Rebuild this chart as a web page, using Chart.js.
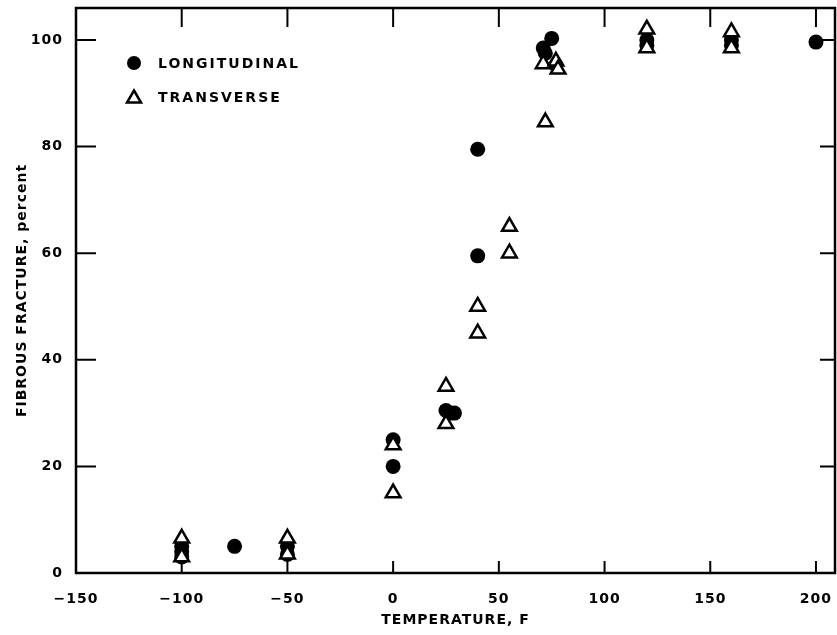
<!DOCTYPE html>
<html>
<head>
<meta charset="utf-8">
<script src="https://cdn.jsdelivr.net/npm/chart.js@4/dist/chart.umd.min.js"></script>
<style>
  html, body { margin: 0; padding: 0; background: #fff; overflow: hidden; }
  canvas { display: block; }
</style>
</head>
<body>
<canvas id="chart-fracture" width="837" height="635"></canvas>
<script>
const tempLongitudinal = [
  -100, -100, -100, -75, -50, -50, 0, 0, 25, 27, 29, 40, 40, 71, 72, 75, 77, 120, 120, 160, 160, 200,
];
const fracLongitudinal = [
  3, 4, 5, 5, 3.5, 5, 25, 20, 30.5, 30, 30, 79.5, 59.5, 98.5, 97.5, 100.3, 95.3, 100, 99, 100, 99, 99.6,
];

const tempTransverse = [
  -100, -100, -50, -50, 0, 0, 25, 25, 40, 40, 55, 55, 72, 71, 77, 78, 120, 120, 160, 160,
];
const fracTransverse = [
  6.5, 3, 6.5, 3.5, 24, 15, 35, 28, 50, 45, 65, 60, 84.6, 95.5, 96, 94.5, 102, 98.5, 101.5, 98.5,
];

const xTicks = [-150, -100, -50, 0, 50, 100, 150, 200];
const yTicks = [0, 20, 40, 60, 80, 100];

const seriesNames = ["LONGITUDINAL", "TRANSVERSE"];

const toPoints = (xs, ys) => xs.map((x, i) => ({ x: x, y: ys[i] }));

const fontFamily = "'DejaVu Sans', sans-serif";
const labelFont = { family: fontFamily, size: 14, weight: "bold" };
const titleFont = { family: fontFamily, size: 14, weight: "bold" };

// no auto padding from the edge labels, fixed axis boxes
const fixBox = (s, size) => {
  s.paddingTop = 0;
  s.paddingBottom = 0;
  s.paddingLeft = 0;
  s.paddingRight = 0;
  if (s.isHorizontal()) s.height = size;
  else s.width = size;
};

// frame, inward ticks on all four sides, and the in-plot key
const framePlugin = {
  id: "frame",
  beforeDraw(chart) {
    chart.ctx.letterSpacing = "1px";
  },
  afterDatasetsDraw(chart) {
    const { ctx, chartArea: a, scales } = chart;
    ctx.save();
    ctx.strokeStyle = "#000";
    ctx.lineWidth = 2.5;
    ctx.strokeRect(a.left, a.top, a.right - a.left, a.bottom - a.top);
    ctx.lineWidth = 2;
    ctx.beginPath();
    xTicks.forEach((v) => {
      const px = scales.x.getPixelForValue(v);
      if (px <= a.left + 2 || px >= a.right - 2) return;
      ctx.moveTo(px, a.bottom);
      ctx.lineTo(px, a.bottom - 12);
      ctx.moveTo(px, a.top);
      ctx.lineTo(px, a.top + 19);
    });
    yTicks.forEach((v) => {
      const py = scales.y.getPixelForValue(v);
      if (py >= a.bottom - 2) return;
      ctx.moveTo(a.left, py);
      ctx.lineTo(a.left + 20, py);
      ctx.moveTo(a.right, py);
      ctx.lineTo(a.right - 15, py);
    });
    ctx.stroke();

    // key
    ctx.font = "bold 14px " + fontFamily;
    ctx.fillStyle = "#000";
    ctx.textBaseline = "middle";
    ctx.letterSpacing = "2px";
    const kx = a.left + 58;
    const k1 = a.top + 55;
    const k2 = a.top + 89;
    ctx.beginPath();
    ctx.arc(kx, k1, 7, 0, Math.PI * 2);
    ctx.fill();
    ctx.beginPath();
    ctx.moveTo(kx, k2 - 6.5);
    ctx.lineTo(kx + 7, k2 + 5.5);
    ctx.lineTo(kx - 7, k2 + 5.5);
    ctx.closePath();
    ctx.lineWidth = 2.5;
    ctx.stroke();
    ctx.fillText(seriesNames[0], kx + 24, k1 + 1);
    ctx.fillText(seriesNames[1], kx + 24, k2 + 1);
    ctx.restore();
  },
};

const ctxFracture = document.querySelector("#chart-fracture").getContext("2d");

new Chart(ctxFracture, {
  type: "scatter",
  data: {
    datasets: [
      {
        label: seriesNames[0],
        data: toPoints(tempLongitudinal, fracLongitudinal),
        pointStyle: "circle",
        radius: 7.5,
        hoverRadius: 7.5,
        backgroundColor: "#000",
        borderColor: "#000",
        borderWidth: 0,
        order: 2,
      },
      {
        label: seriesNames[1],
        data: toPoints(tempTransverse, fracTransverse),
        pointStyle: "triangle",
        radius: 8.5,
        hoverRadius: 8.5,
        backgroundColor: "#fff",
        borderColor: "#000",
        borderWidth: 2.5,
        order: 1,
      },
    ],
  },
  options: {
    responsive: false,
    animation: false,
    layout: {
      autoPadding: false,
      padding: { top: 8, right: 2, left: 0, bottom: 0 },
    },
    plugins: {
      legend: { display: false },
      tooltip: { enabled: false },
    },
    scales: {
      x: {
        type: "linear",
        min: -150,
        max: 209,
        border: { display: false },
        grid: { display: false, drawTicks: false },
        afterBuildTicks: (s) => {
          s.ticks = xTicks.map((v) => ({ value: v }));
        },
        afterFit: (s) => fixBox(s, 62),
        ticks: {
          color: "#000",
          font: labelFont,
          padding: 18,
          maxRotation: 0,
          callback: (v) => String(v).replace("-", "\u2212"),
        },
        title: {
          display: true,
          text: "TEMPERATURE, F",
          color: "#000",
          font: titleFont,
          padding: { top: 2, bottom: 6 },
        },
      },
      y: {
        type: "linear",
        min: 0,
        max: 106,
        border: { display: false },
        grid: { display: false, drawTicks: false },
        afterBuildTicks: (s) => {
          s.ticks = yTicks.map((v) => ({ value: v }));
        },
        afterFit: (s) => fixBox(s, 76),
        ticks: {
          color: "#000",
          font: labelFont,
          padding: 13,
        },
        title: {
          display: true,
          text: "FIBROUS FRACTURE, percent",
          color: "#000",
          font: titleFont,
          padding: { top: 14, bottom: 0 },
        },
      },
    },
  },
  plugins: [framePlugin],
});
</script>
</body>
</html>
